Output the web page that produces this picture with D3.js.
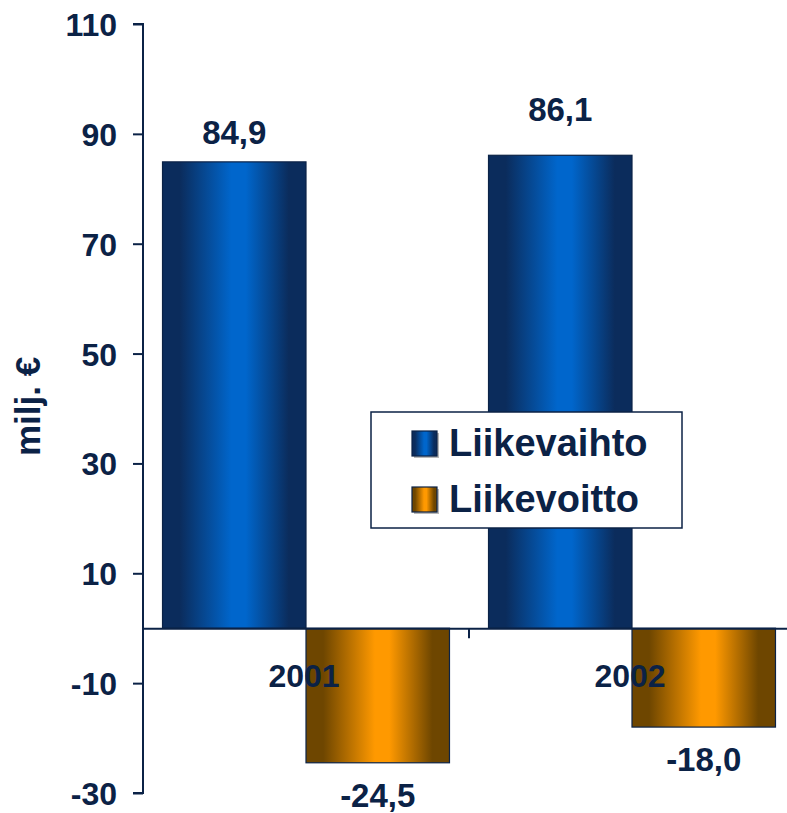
<!DOCTYPE html>
<html>
<head>
<meta charset="utf-8">
<script src="https://cdn.jsdelivr.net/npm/d3@7"></script>
<style>
  html, body { margin: 0; padding: 0; background: #fff; }
  svg text { font-family: "Liberation Sans", Arial, sans-serif; font-weight: bold; fill: #0b2246; }
</style>
</head>
<body>
<svg id="chart" width="787" height="813"></svg>
<script>
// ---- data ----
const years = ["2001", "2002"];
const seriesNames = ["Liikevaihto", "Liikevoitto"];
const liikevaihto = [84.9, 86.1];
const liikevoitto = [-24.5, -18.0];
const yTicks = [-30, -10, 10, 30, 50, 70, 90, 110];
const yLabel = "milj. €";

// ---- layout ----
const ink = "#0b2246";
const svg = d3.select("#chart");
const defs = svg.append("defs");

function grad(id, edge, mid) {
  const g = defs.append("linearGradient").attr("id", id)
    .attr("x1", "0%").attr("x2", "100%").attr("y1", "0%").attr("y2", "0%");
  [[0, edge], [0.12, edge], [0.48, mid], [0.58, mid], [0.88, edge], [1, edge]].forEach(([o, c]) =>
    g.append("stop").attr("offset", o).attr("stop-color", c));
}
grad("gBlue", "#0b2c5c", "#0066cc");
grad("gOrange", "#6e4600", "#ff9900");
const fills = ["url(#gBlue)", "url(#gOrange)"];

const y = d3.scaleLinear().domain([-30, 110]).range([793, 24]);
const x0 = d3.scaleBand().domain(years).range([143, 795]).paddingInner(0).paddingOuter(0);
const x1 = d3.scaleBand().domain(seriesNames).range([0, x0.bandwidth()]).paddingInner(0).paddingOuter(0.136);

const rows = years.map((yr, i) => ({ year: yr, values: [liikevaihto[i], liikevoitto[i]] }));

// bars
const groups = svg.append("g").selectAll("g").data(rows).join("g")
  .attr("transform", d => `translate(${x0(d.year)},0)`);

groups.selectAll("rect").data(d => d.values.map((v, k) => ({ v, k, s: seriesNames[k] })))
  .join("rect")
  .attr("x", d => x1(d.s))
  .attr("width", x1.bandwidth())
  .attr("y", d => y(Math.max(0, d.v)))
  .attr("height", d => Math.abs(y(d.v) - y(0)))
  .attr("fill", d => fills[d.k])
  .attr("stroke", ink).attr("stroke-width", 1.2);

// value labels (per-label vertical nudge in px, a style choice)
const labelNudge = [[18, 44], [34, 44]];
const fmt = v => d3.format(".1f")(v).replace(".", ",").replace("\u2212", "-");
groups.selectAll("text.val").data((d, i) => d.values.map((v, k) => ({ v, k, s: seriesNames[k], i })))
  .join("text").attr("class", "val")
  .attr("x", d => x1(d.s) + x1.bandwidth() / 2)
  .attr("y", d => d.v >= 0 ? y(d.v) - labelNudge[d.i][d.k] : y(d.v) + labelNudge[d.i][d.k])
  .attr("text-anchor", "middle")
  .attr("font-size", 33)
  .text(d => fmt(d.v));

// y axis
const yAxis = d3.axisLeft(y).tickValues(yTicks).tickSize(10).tickPadding(16).tickFormat(d => String(d));
const ya = svg.append("g").attr("transform", "translate(143,0)").call(yAxis);
ya.select(".domain").attr("stroke", ink).attr("stroke-width", 2).attr("d", `M-10,${y(110)}H0V${y(-30)}H-10`);
ya.selectAll(".tick line").attr("stroke", ink).attr("stroke-width", 2);
ya.selectAll(".tick text").attr("font-size", 32).attr("font-family", "Liberation Sans, Arial, sans-serif")
  .attr("font-weight", "bold").attr("fill", ink).attr("dy", "0.36em");

// x axis at zero
const xAxis = d3.axisBottom(x0).tickSize(0).tickPadding(0);
const xa = svg.append("g").attr("transform", `translate(0,${y(0)})`).call(xAxis);
xa.select(".domain").attr("stroke", ink).attr("stroke-width", 2);
xa.selectAll(".tick text").remove();
// tick marks at band boundaries
xa.selectAll("line.bt").data(years.slice(1)).join("line").attr("class", "bt")
  .attr("x1", d => x0(d)).attr("x2", d => x0(d)).attr("y1", 0).attr("y2", 10)
  .attr("stroke", ink).attr("stroke-width", 2);
// category labels
svg.append("g").selectAll("text").data(years).join("text")
  .attr("x", d => x0(d) + x0.bandwidth() / 2 - 2)
  .attr("y", y(0) + 59)
  .attr("text-anchor", "middle").attr("font-size", 32)
  .text(d => d);

// y label
svg.append("text")
  .attr("transform", `translate(40,${(y(50) + y(30)) / 2 - 2}) rotate(-90)`)
  .attr("text-anchor", "middle").attr("font-size", 35)
  .text(yLabel);

// legend
const lg = svg.append("g").attr("transform", "translate(371,412)");
lg.append("rect").attr("width", 311).attr("height", 116).attr("fill", "#fff")
  .attr("stroke", ink).attr("stroke-width", 1.5);
const items = lg.selectAll("g.item").data(seriesNames).join("g").attr("class", "item")
  .attr("transform", (d, i) => `translate(0,${19 + i * 56})`);
items.append("rect").attr("x", 43).attr("y", 2).attr("width", 25).attr("height", 25)
  .attr("fill", "#333").attr("opacity", 0.35);
items.append("rect").attr("x", 41).attr("y", 0).attr("width", 25).attr("height", 25)
  .attr("fill", (d, i) => fills[i]).attr("stroke", ink).attr("stroke-width", 1.2);
items.append("text").attr("x", 78).attr("y", 25).attr("font-size", 38).text(d => d);
</script>
</body>
</html>
